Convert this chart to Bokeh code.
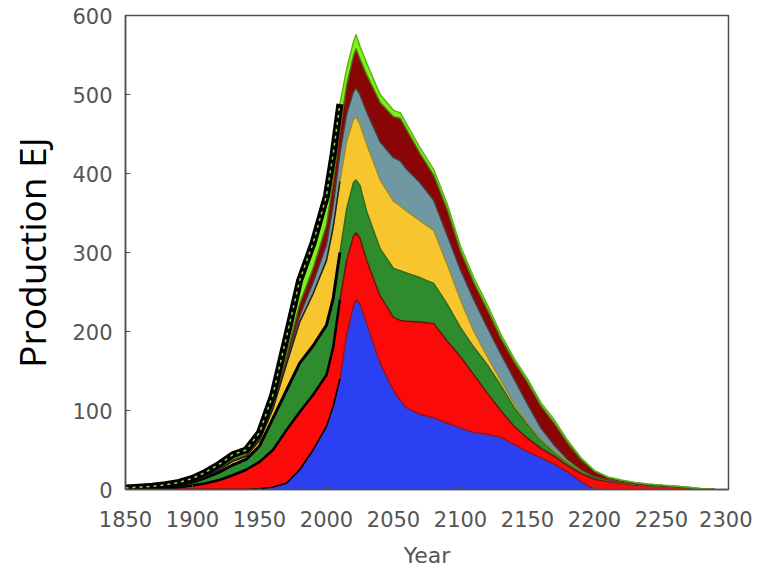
import numpy as np
from bokeh.plotting import figure
from bokeh.models import Range1d, FixedTicker, ColumnDataSource
from bokeh.embed import file_html
from bokeh.resources import INLINE

years = [1850, 1860, 1870, 1880, 1890, 1900, 1910, 1920, 1930, 1940,
         1950, 1960, 1970, 1980, 1990, 2000, 2005, 2010, 2015, 2020,
         2022, 2025, 2030, 2040, 2050, 2055, 2060, 2070, 2080, 2090,
         2100, 2110, 2120, 2130, 2140, 2150, 2160, 2170, 2180, 2190,
         2200, 2210, 2220, 2230, 2240, 2250, 2260, 2270, 2280, 2290]

blue = [0, 0, 0, 0, 0, 0, 0, 0, 0, 0,
        1, 3, 8, 25, 50, 80, 105, 140, 195, 232,
        240, 235, 210, 160, 125, 113, 103, 95, 91, 84,
        78, 72, 70, 66, 57, 48, 40, 32, 22, 10,
        0, 0, 0, 0, 0, 0, 0, 0, 0, 0]

red = [0.5, 1, 1.5, 2, 3, 5, 8, 12, 18, 25,
       34, 47, 67, 73, 70, 65, 75, 100, 95, 88,
       85, 83, 80, 85, 93, 101, 110, 117, 119, 104,
       90, 73, 52, 34, 23, 17, 12, 10, 8, 10,
       13, 10, 8, 6, 5, 4, 3, 2, 0.5, 0]

green = [1, 1, 1.5, 2, 3, 4, 7, 10, 13, 13,
         20, 40, 50, 62, 62, 63, 62, 60, 65, 68,
         67, 67, 62, 60, 62, 63, 61, 56, 51, 47,
         37, 35, 36, 32, 24, 17, 11, 5, 4, 3,
         2, 1, 0.5, 0.5, 0, 0, 0, 0, 0, 0]

yellow = [0, 0, 0, 0, 0, 1, 2, 3, 5, 4,
          7, 12, 33, 52, 66, 82, 90, 90, 85, 80,
          80, 77, 85, 87, 85, 82, 78, 72, 67, 50,
          35, 20, 10, 6, 4, 2, 1, 1, 1, 1,
          1, 1, 0.5, 0.5, 0, 0, 0, 0, 0, 0]

slate = [0, 0, 0, 0, 0, 0, 0, 0, 0, 0,
         1, 2, 4, 8, 14, 20, 28, 35, 35, 35,
         36, 38, 41, 48, 55, 57, 53, 48, 38, 37,
         38, 40, 37, 34, 32, 24, 14, 8, 3, 1,
         0, 0, 0, 0, 0, 0, 0, 0, 0, 0]

darkred = [0, 0, 0, 0, 0, 1, 1, 2, 2, 2,
           2, 4, 8, 15, 18, 25, 30, 30, 37, 45,
           50, 45, 47, 50, 52, 54, 50, 37, 32, 33,
           24, 22, 23, 20, 22, 28, 28, 28, 21, 13,
           7, 3, 2.5, 1.7, 1.8, 1.3, 1.3, 0.8, 0.5, 0]

lightgreen = [0.5, 1, 1, 2, 3, 3, 4, 5, 6, 6,
              7, 12, 22, 30, 32, 37, 35, 33, 20, 18,
              18, 16, 15, 10, 8, 7, 7, 7, 7, 7,
              6, 6, 6, 5, 4, 4, 4, 4, 3, 2,
              1, 1, 0.5, 0.3, 0.2, 0.2, 0.2, 0.2, 0, 0]

x_ticks = [1850, 1900, 1950, 2000, 2050, 2100, 2150, 2200, 2250, 2300]
y_ticks = [0, 100, 200, 300, 400, 500, 600]
history_end = 2010

names = ["blue", "red", "green", "yellow", "slate", "darkred", "lightgreen"]
layers = [blue, red, green, yellow, slate, darkred, lightgreen]
fills = ["#2a40f2", "#fb0a0a", "#2f8c2c", "#f7c52e", "#6f98a3", "#8a0606", "#7ef01c"]
edges = ["#9a1010", "#6a1208", "#2a6a20", "#9a8a30", "#503838", "#4a7a10", "#58b010"]

data = {"year": years}
for n, l in zip(names, layers):
    data[n] = l
src = ColumnDataSource(data)

p = figure(frame_width=603, frame_height=474,
           x_range=Range1d(1850, 2300), y_range=Range1d(0, 600),
           output_backend="svg", toolbar_location=None,
           min_border_left=125, min_border_top=15, min_border_right=24,
           min_border_bottom=72, background_fill_color="white")

p.varea_stack(stackers=names, x="year", color=fills, source=src)

cum = np.cumsum(np.array(layers, dtype=float), axis=0)
yrs = np.array(years)
for i in range(len(layers)):
    p.line(yrs, cum[i], line_color=edges[i], line_width=1.4)

hist = yrs <= history_end
p.line(yrs[hist], cum[0][hist], line_color="black", line_width=1.5)
p.line(yrs[hist], cum[1][hist], line_color="black", line_width=2.5)
p.line(yrs[hist], cum[2][hist], line_color="black", line_width=3)
p.line(yrs[hist], cum[3][hist], line_color="#222222", line_width=1.5)
p.line(yrs[hist], cum[6][hist], line_color="black", line_width=7)
p.line(yrs[hist], cum[6][hist], line_color="#8ee040", line_width=1.5, line_dash="3 4")

p.grid.visible = False
p.outline_line_color = "#505050"
p.outline_line_width = 1.5

for ax in (p.xaxis[0], p.yaxis[0]):
    ax.axis_line_color = "#505050"
    ax.axis_line_width = 1.5
    ax.major_tick_in = 5
    ax.major_tick_out = 0
    ax.major_tick_line_color = "#505050"
    ax.minor_tick_line_color = None
    ax.major_label_text_font = "DejaVu Sans"
    ax.major_label_text_font_size = "21px"
    ax.major_label_text_color = "#555555"

p.xaxis[0].ticker = FixedTicker(ticks=x_ticks)
p.yaxis[0].ticker = FixedTicker(ticks=y_ticks)
p.xaxis[0].major_label_standoff = 21
p.yaxis[0].major_label_standoff = 13

p.xaxis[0].axis_label = "Year"
p.xaxis[0].axis_label_text_font = "DejaVu Sans"
p.xaxis[0].axis_label_text_font_size = "22px"
p.xaxis[0].axis_label_text_font_style = "normal"
p.xaxis[0].axis_label_text_color = "#555555"
p.xaxis[0].axis_label_standoff = 13

p.yaxis[0].axis_label = "Production EJ"
p.yaxis[0].axis_label_text_font = "Open Sans"
p.yaxis[0].axis_label_text_font_size = "37px"
p.yaxis[0].axis_label_text_font_style = "normal"
p.yaxis[0].axis_label_text_color = "black"
p.yaxis[0].axis_label_standoff = 12

open("out.html", "w").write(file_html(p, INLINE))
